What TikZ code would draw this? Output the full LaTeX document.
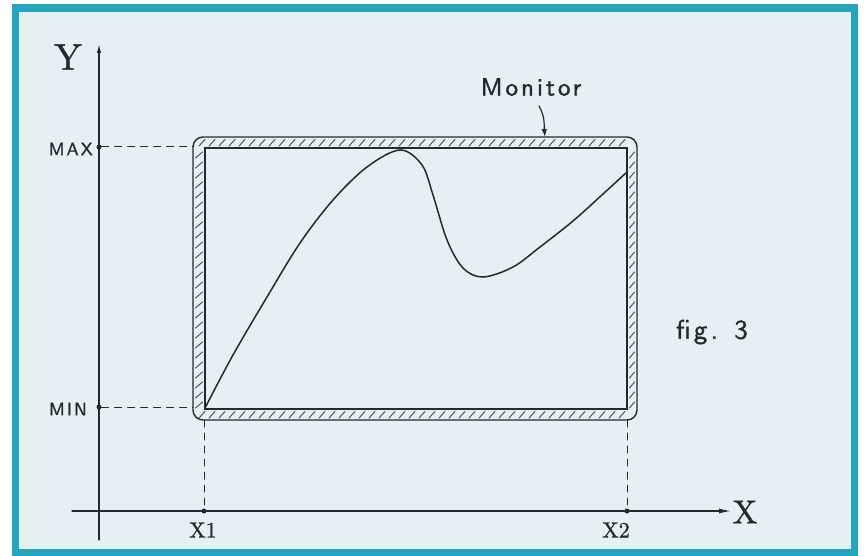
\documentclass[tikz,border=0pt]{standalone}
\usepackage{fontspec}
\usetikzlibrary{arrows.meta}
\newfontfamily\hand{lmsans10-regular}[Extension=.otf, LetterSpace=12, FakeBold=1.2]
\newfontfamily\handrm{lmroman10-regular}[Extension=.otf, FakeBold=1.0]
\definecolor{bgc}{RGB}{229,240,241}
\definecolor{framec}{RGB}{38,165,190}
\definecolor{ink}{RGB}{40,40,42}
\tikzset{
  axisline/.style={draw=ink, line width=1.3pt},
  guide/.style={draw=ink, line width=1pt, dash pattern=on 7pt off 6pt},
  hatchline/.style={draw=ink!85, line width=0.9pt},
  rimline/.style={draw=ink, line width=1.4pt},
  dot/.style={circle, fill=ink, inner sep=0pt, minimum size=5pt},
  lbl/.style={text=ink, inner sep=0pt},
}
\begin{document}
\begin{tikzpicture}[x=1pt,y=-1pt, line cap=round]
\useasboundingbox (0,0) rectangle (864,556);
\fill[white] (0,0) rectangle (864,556);
\fill[framec] (12,4) rectangle (858,556);
\fill[bgc] (19,12) rectangle (851,549);

% key coordinates
\coordinate (ybot) at (99,540);
\coordinate (ytop) at (99,44);
\coordinate (xleft) at (72,511);
\coordinate (xright) at (731,511);
\node[dot] (pmax) at (99,147) {};
\node[dot] (pmin) at (99,407) {};
\node[dot] (px1) at (204,511) {};
\node[dot] (px2) at (627,511) {};
\coordinate (rmax) at (193,147);
\coordinate (rmin) at (193,407);
\coordinate (rx1) at (204,420);
\coordinate (rx2) at (627,420);

% axes
\draw[axisline, -{Latex[length=9pt,width=4.5pt]}] (ybot) -- (ytop);
\draw[axisline, -{Latex[length=12pt,width=5pt]}] (xleft) -- (xright);

% guides
\draw[guide] (pmax) -- (rmax);
\draw[guide] (pmin) -- (rmin);
\draw[guide] (rx1) -- (px1);
\draw[guide] (rx2) -- (px2);

% monitor hatching
\foreach \x in {199,209,...,628} \draw[hatchline] (\x,146) -- (\x+6,139.5);
\foreach \x in {199,209,...,628} \draw[hatchline] (\x,418) -- (\x+6,411.5);
\foreach \y in {151,161,...,405} \draw[hatchline] (195.5,\y+7) -- (202.5,\y+1);
\foreach \y in {151,161,...,405} \draw[hatchline] (629.5,\y+7) -- (634.5,\y+1);

% monitor frame
\draw[rimline, rounded corners=10pt] (193,137) rectangle (637,420);
\draw[draw=ink, line width=1.2pt] (205,148) rectangle (627,409);

% curve
\draw[draw=ink, line width=1.5pt] plot[smooth, tension=0.55] coordinates {
  (205,408) (233,355) (267,297) (300,243) (333,200) (367,167) (400,150)
  (422,165) (433,195) (447,240) (463,268) (483,277) (513,267) (540,247)
  (573,221) (603,194) (627,172)};

% labels
\node[lbl, font=\handrm\fontsize{37}{37}\selectfont] (ylab) at (68,57) {Y};
\node[lbl, font=\handrm\fontsize{33}{33}\selectfont] (xlab) at (745,512) {X};
\node[lbl, anchor=east, font=\hand\fontsize{18}{18}\selectfont] (maxlab) at (93,149) {MAX};
\node[lbl, anchor=east, font=\hand\fontsize{18}{18}\selectfont] (minlab) at (87,409) {MIN};
\node[lbl, font=\handrm\fontsize{22}{22}\selectfont] (x1lab) at (203,530) {X1};
\node[lbl, font=\handrm\fontsize{22}{22}\selectfont] (x2lab) at (616,530) {X2};
\node[lbl, font=\hand\fontsize{25}{25}\selectfont] (monlab) at (531,87) {Monitor};
\node[lbl, font=\hand\fontsize{27}{27}\selectfont] (figlab) at (712,332) {fig. 3};

% monitor arrow
\coordinate (monstart) at (539,106);
\coordinate (montip) at (545,137);
\draw[draw=ink, line width=1.2pt, -{Latex[length=8pt,width=5.5pt]}] (monstart) to[out=-60, in=95] (montip);
\end{tikzpicture}
\end{document}
